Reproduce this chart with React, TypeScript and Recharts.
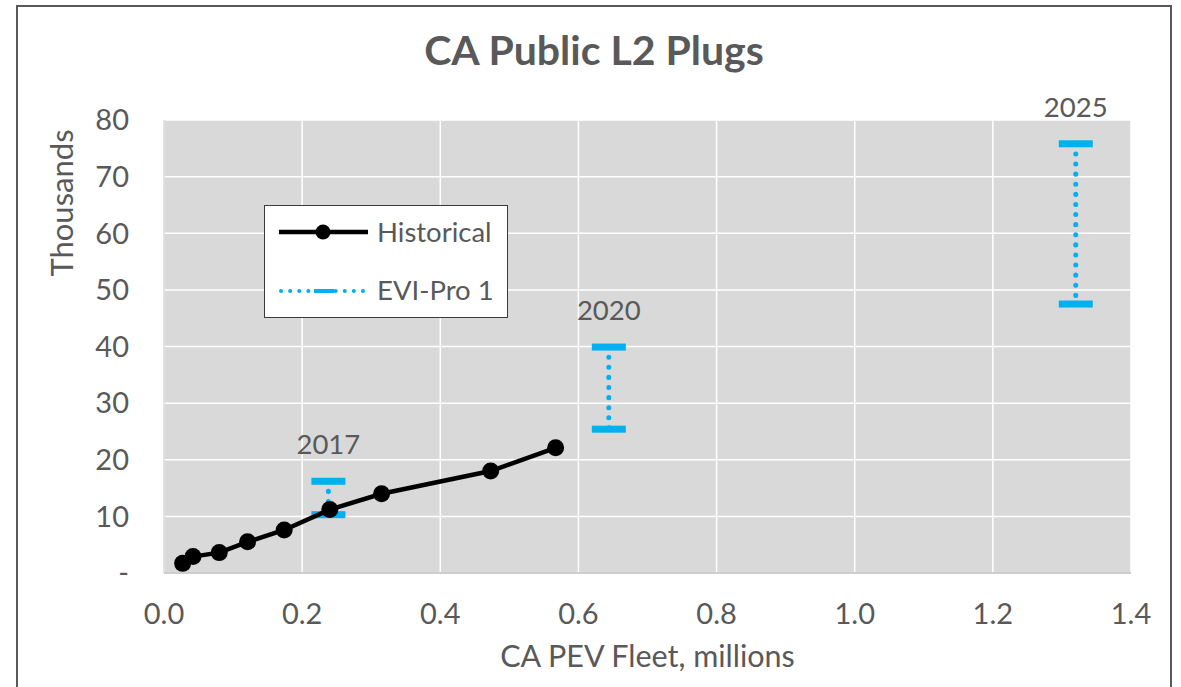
import React from 'react';
import { ScatterChart, Scatter, XAxis, YAxis, CartesianGrid } from 'recharts';

const historicalFleet = [0.027, 0.042, 0.08, 0.121, 0.174, 0.24, 0.315, 0.473, 0.567];
const historicalPlugs = [1.7, 2.9, 3.6, 5.5, 7.6, 11.2, 14.0, 18.0, 22.1];

const eviYears = ['2017', '2020', '2025'];
const eviFleet = [0.238, 0.644, 1.32];
const eviLow = [10.3, 25.4, 47.5];
const eviHigh = [16.2, 39.9, 75.8];

const xTicks = [0, 0.2, 0.4, 0.6, 0.8, 1.0, 1.2, 1.4];
const yTicks = [0, 10, 20, 30, 40, 50, 60, 70, 80];

const FONT = 'Lato, "Noto Sans", sans-serif';
const TEXT = '#595959';
const BLUE = '#00b0f0';

const historicalData = historicalFleet.map((x, i) => ({ x, y: historicalPlugs[i] }));
const rangeData = eviFleet.map((x, i) => [
  { x, y: eviHigh[i] },
  { x, y: eviLow[i] },
]);
const labelData = eviFleet.map((x, i) => ({ x, y: eviHigh[i], label: eviYears[i] }));

const Dot = (p: any) => <circle cx={p.cx} cy={p.cy} r={8.5} fill="#000" />;
const Cap = (p: any) => <rect x={p.cx - 17} y={p.cy - 3.5} width={34} height={7} fill={BLUE} />;
const YearLabel = (p: any) => (
  <text x={p.cx} y={p.cy - 27} textAnchor="middle" fontSize={27.5} fill={TEXT} fontFamily={FONT}>
    {p.payload.label}
  </text>
);

const LegendBox = () => (
  <div
    style={{
      position: 'absolute',
      left: 264,
      top: 205,
      width: 244,
      height: 113,
      boxSizing: 'border-box',
      border: '1.5px solid #3a3a3a',
      background: '#fff',
    }}
  >
    <svg width={244} height={113} style={{ position: 'absolute', left: -1.5, top: -1.5 }}>
      <line x1={15} x2={104} y1={27} y2={27} stroke="#000" strokeWidth={4.5} />
      <circle cx={59} cy={27} r={7.5} fill="#000" />
      <text x={113} y={37} fontSize={27.5} fill={TEXT} fontFamily={FONT}>Historical</text>
      <line x1={17} x2={102} y1={86} y2={86} stroke={BLUE} strokeWidth={4} strokeDasharray="0.1 9" strokeLinecap="round" />
      <rect x={50} y={84} width={20} height={4} fill={BLUE} />
      <text x={113} y={95} fontSize={27.5} fill={TEXT} fontFamily={FONT}>EVI-Pro 1</text>
    </svg>
  </div>
);

const XTitle = (props: any) => {
  const vb = props.viewBox || {};
  return (
    <text x={vb.x + vb.width / 2} y={667} textAnchor="middle" fontSize={30.5} fill={TEXT} fontFamily={FONT}>
      CA PEV Fleet, millions
    </text>
  );
};

const YTitle = () => (
  <text
    x={73}
    y={203}
    transform="rotate(-90, 73, 203)"
    textAnchor="middle"
    fontSize={31}
    fill={TEXT}
    fontFamily={FONT}
  >
    Thousands
  </text>
);

export default function App() {
  return (
    <div style={{ position: 'absolute', left: 0, top: 0, width: 1181, height: 687, overflow: 'hidden', background: '#fff' }}>
      <div
        style={{
          position: 'absolute',
          left: 16,
          top: 5,
          width: 1156,
          height: 720,
          boxSizing: 'border-box',
          border: '2px solid #595959',
        }}
      />
      <div
        style={{
          position: 'absolute',
          left: 0,
          top: 25,
          width: 1188,
          textAlign: 'center',
          fontFamily: FONT,
          fontWeight: 700,
          fontSize: 41,
          color: TEXT,
          lineHeight: '50px',
        }}
      >
        CA Public L2 Plugs
      </div>
      <div style={{ position: 'absolute', left: 0, top: 0 }}>
        <ScatterChart width={1181} height={687} margin={{ top: 120, right: 50, bottom: 74, left: 104 }}>
          <CartesianGrid fill="#d9d9d9" stroke="#ffffff" strokeWidth={1.5} horizontalValues={yTicks} verticalValues={xTicks} />
          <XAxis
            type="number"
            dataKey="x"
            domain={[0, 1.4]}
            ticks={xTicks}
            interval={0}
            tickFormatter={(v: number) => v.toFixed(1)}
            tick={{ fontSize: 29, fill: TEXT, fontFamily: FONT }}
            tickLine={false}
            tickSize={0}
            tickMargin={30}
            axisLine={{ stroke: '#bfbfbf', strokeWidth: 1.5 }}
            height={40}
            label={<XTitle />}
          />
          <YAxis
            type="number"
            dataKey="y"
            domain={[0, 80]}
            ticks={yTicks}
            interval={0}
            tickFormatter={(v: number) => (v === 0 ? '-' : String(v))}
            tick={{ fontSize: 29, fill: TEXT, fontFamily: FONT }}
            tickLine={false}
            tickSize={0}
            tickMargin={35}
            axisLine={{ stroke: '#c8c8c8', strokeWidth: 1 }}
            width={60}
            label={<YTitle />}
          />
          {rangeData.map((d, i) => (
            <Scatter
              key={'r' + i}
              name={'EVI-Pro 1 ' + i}
              data={d}
              line={{ stroke: BLUE, strokeWidth: 5, strokeDasharray: '0.1 10', strokeLinecap: 'round' }}
              lineType="joint"
              shape={Cap}
              isAnimationActive={false}
            />
          ))}
          <Scatter
            name="Historical"
            data={historicalData}
            line={{ stroke: '#000', strokeWidth: 4.5 }}
            lineType="joint"
            shape={Dot}
            isAnimationActive={false}
          />
          <Scatter name="labels" data={labelData} shape={YearLabel} isAnimationActive={false} />
        </ScatterChart>
      </div>
      <LegendBox />
    </div>
  );
}
